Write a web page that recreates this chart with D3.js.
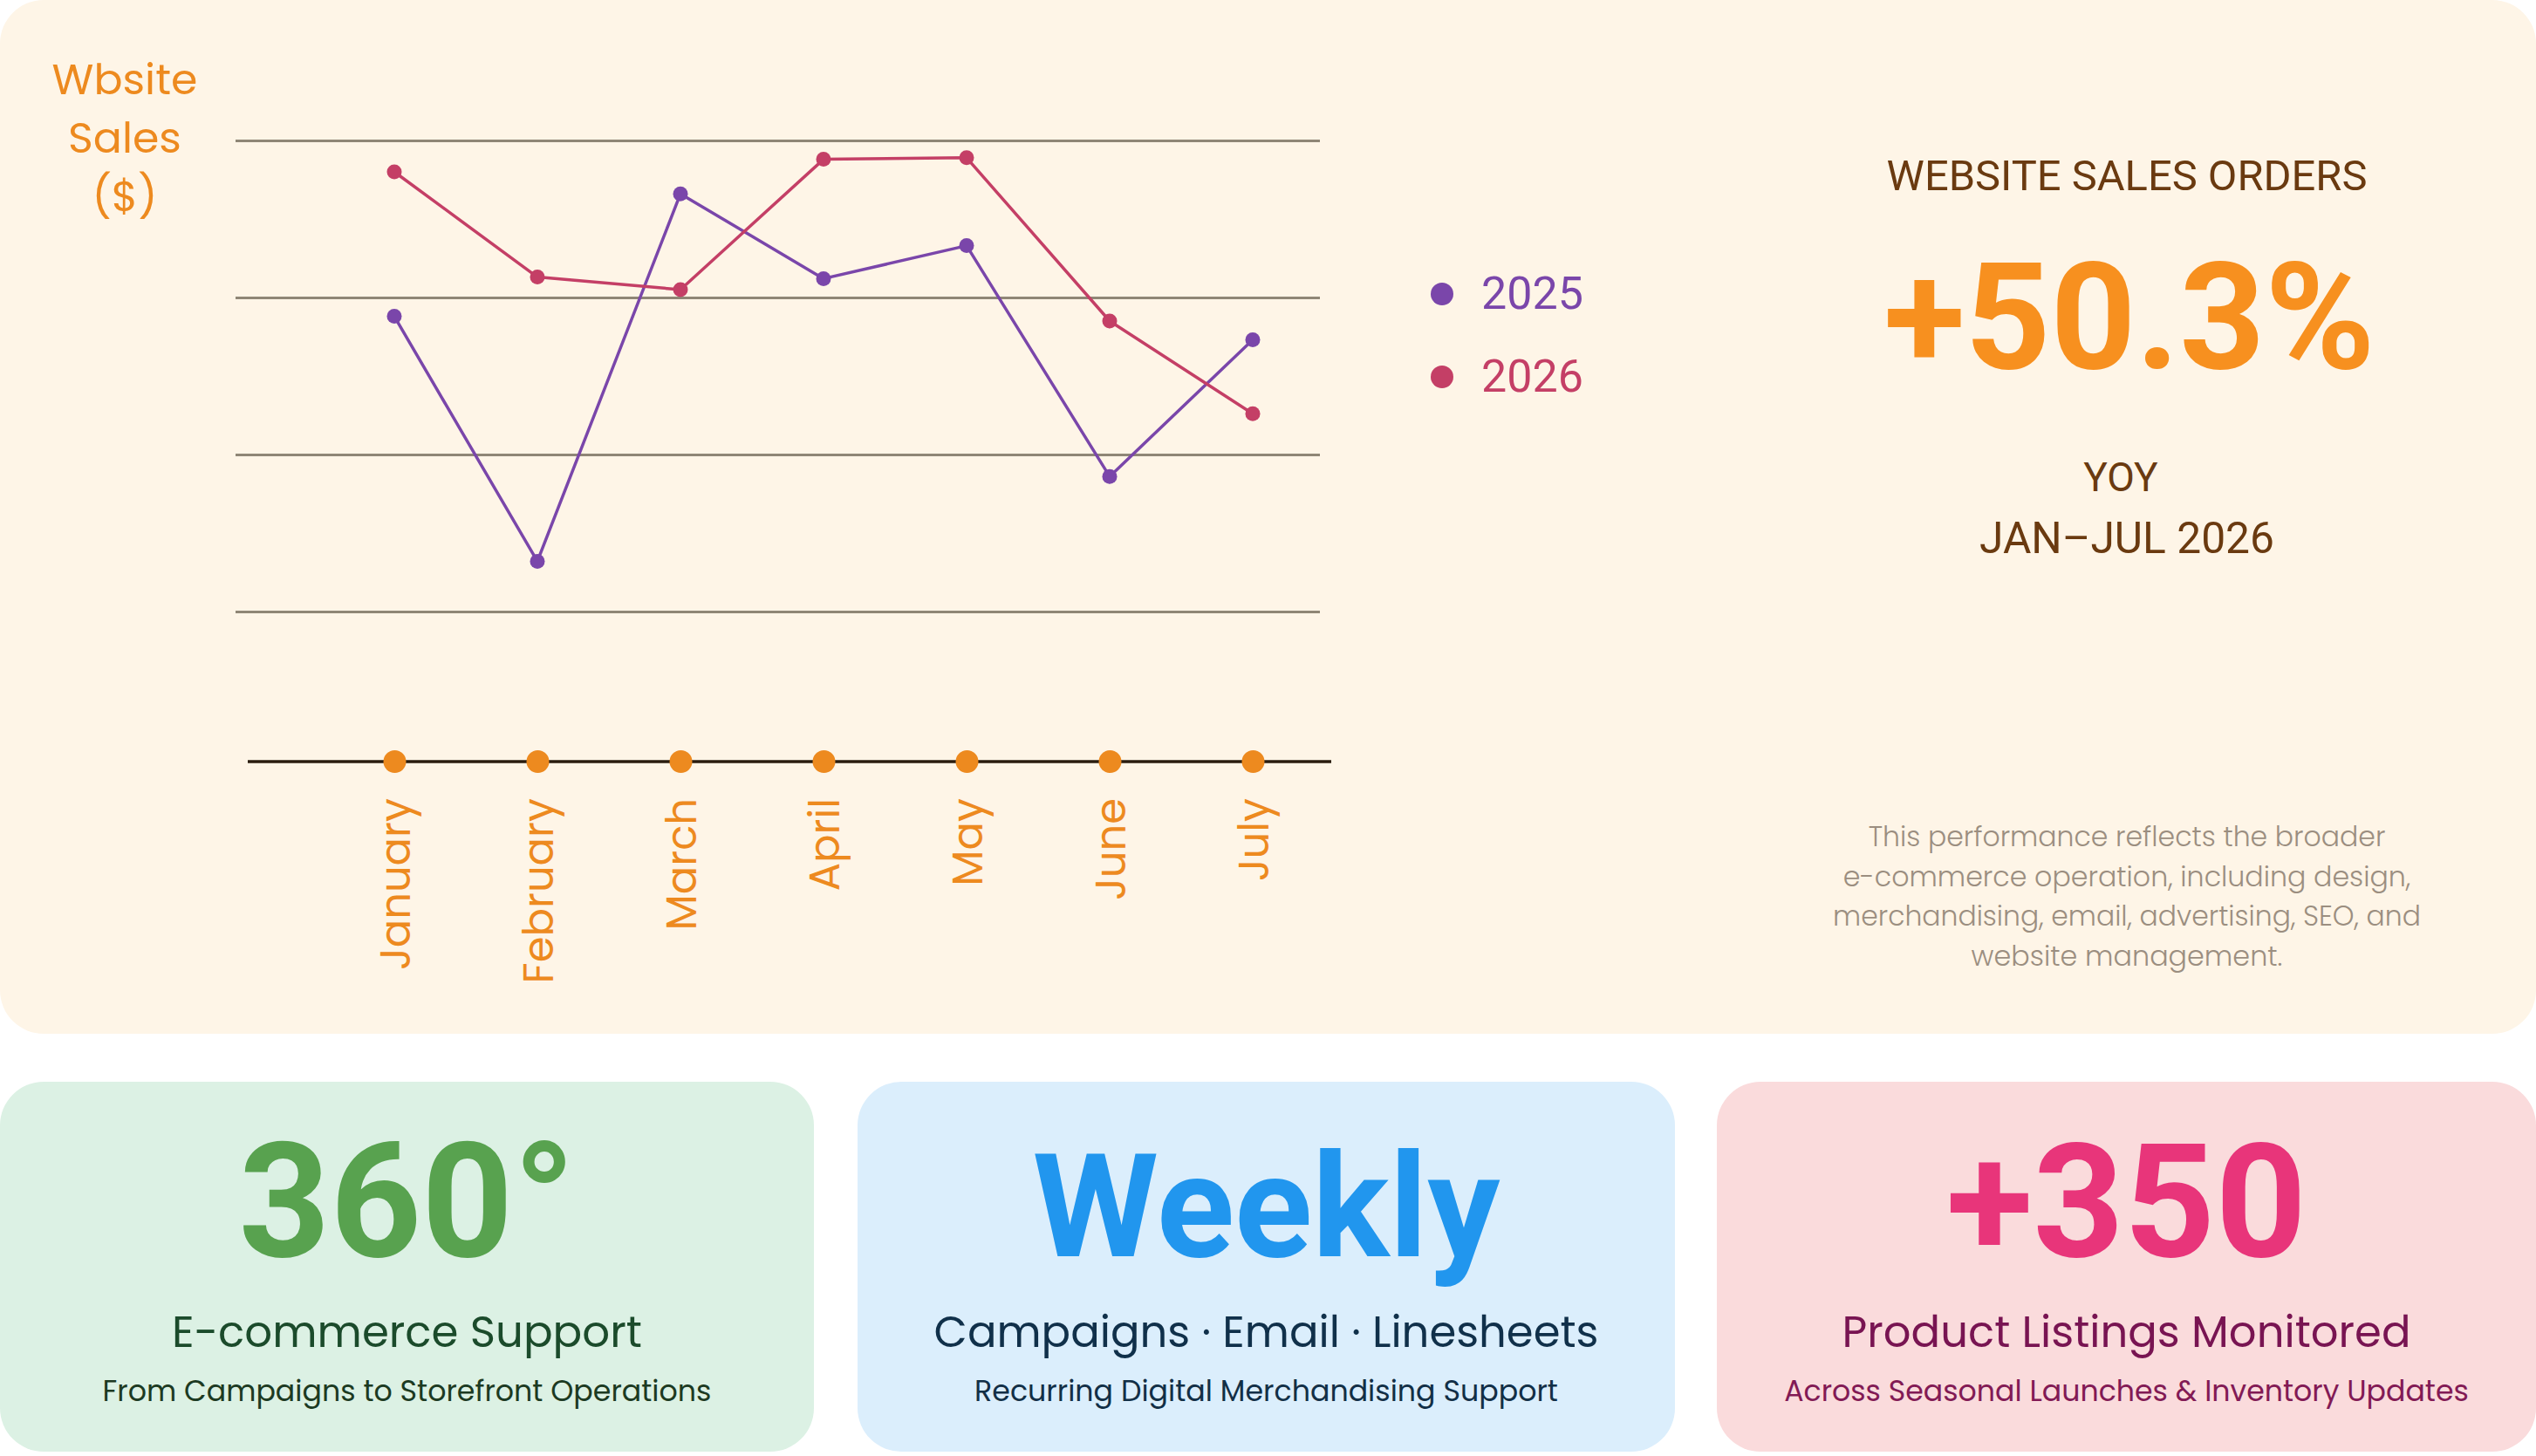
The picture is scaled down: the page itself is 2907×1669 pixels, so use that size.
<!DOCTYPE html>
<html>
<head>
<meta charset="utf-8">
<script src="https://cdn.jsdelivr.net/npm/d3@7"></script>
<style>
  html, body { margin: 0; padding: 0; background: #ffffff; }
  svg { display: block; }
</style>
</head>
<body>
<svg id="chart" width="2907" height="1669"></svg>
<script>
// ---------------- DATA ----------------
const months = ["January", "February", "March", "April", "May", "June", "July"];
const seriesNames = ["2025", "2026"];
const sales2025 = [18.8, 3.2, 26.6, 21.2, 23.3, 8.6, 17.3];
const sales2026 = [28.0, 21.3, 20.5, 28.8, 28.9, 18.5, 12.6];
const gridTicks = [0, 10, 20, 30];
const yLabelLines = ["Wbsite", "Sales", "($)"];

const kpiTitle = "WEBSITE SALES ORDERS";
const kpiValue = "+50.3%";
const kpiLines = ["YOY", "JAN\u2013JUL 2026"];
const noteLines = [
  "This performance reflects the broader",
  "e-commerce operation, including design,",
  "merchandising, email, advertising, SEO, and",
  "website management."
];

const cardValues = ["360\u00b0", "Weekly", "+350"];
const cardTitles = ["E-commerce Support", "Campaigns \u00b7 Email \u00b7 Linesheets", "Product Listings Monitored"];
const cardSubtitles = ["From Campaigns to Storefront Operations", "Recurring Digital Merchandising Support", "Across Seasonal Launches & Inventory Updates"];

// ---------------- STYLE / LAYOUT ----------------
const W = 2907, H = 1669;
const SANS = "Poppins, Lato, 'Open Sans', sans-serif";
const GROT = "Roboto, Inter, 'Liberation Sans', sans-serif";
const colors = {
  panel: "#fef5e7",
  orange: "#ed8a1f",
  grid: "#8f8676",
  axis: "#2a1d0f",
  s2025: "#7a46aa",
  s2026: "#c43f66",
  brown: "#6a3a10",
  kpi: "#f7901f",
  note: "#9b8e80"
};
const cardStyle = [
  { bg: "#dcf1e4", big: "#58a24f", title: "#1b4b2b", sub: "#1c3a22" },
  { bg: "#dbeefc", big: "#2196ee", title: "#10304a", sub: "#122f46" },
  { bg: "#fadbdc", big: "#e8357a", title: "#781452", sub: "#821a55" }
];

const svg = d3.select("#chart");

function fit(sel, width) {
  const n = sel.node();
  const cur = n.getComputedTextLength();
  const fs = parseFloat(sel.attr("font-size"));
  if (cur > 0) sel.attr("font-size", fs * width / cur);
  return sel;
}

// top panel
svg.append("rect").attr("x", 0).attr("y", 0).attr("width", W).attr("height", 1185)
  .attr("rx", 50).attr("fill", colors.panel);

// scales
const x = d3.scalePoint().domain(months).range([452, 1436]);
const y = d3.scaleLinear().domain([0, 30]).range([701, 161]);

// gridlines
const grid = svg.append("g").attr("transform", "translate(270,0)")
  .call(d3.axisLeft(y).tickValues(gridTicks).tickSize(-(1513 - 270)).tickFormat(""));
grid.select(".domain").remove();
grid.selectAll(".tick line").attr("stroke", colors.grid).attr("stroke-width", 3);

// x axis
const xa = svg.append("g").attr("transform", "translate(0,873)");
xa.append("line").attr("x1", 284).attr("x2", 1526).attr("y1", 0).attr("y2", 0)
  .attr("stroke", colors.axis).attr("stroke-width", 3.5);
xa.call(d3.axisBottom(x).tickSize(0).tickSizeOuter(0).tickFormat(""));
xa.select(".domain").remove();
xa.selectAll(".tick").append("circle").attr("r", 13).attr("fill", colors.orange);
xa.selectAll(".tick").append("text")
  .attr("transform", "rotate(-90)")
  .attr("x", -42).attr("y", 0).attr("dy", "0.36em")
  .attr("text-anchor", "end")
  .attr("fill", colors.orange)
  .attr("font-family", SANS)
  .attr("font-size", 48)
  .text(d => d);

// lines
const series = [
  { name: seriesNames[0], values: sales2025, color: colors.s2025 },
  { name: seriesNames[1], values: sales2026, color: colors.s2026 }
];
const line = d3.line().x((d, i) => x(months[i])).y(d => y(d));
series.forEach(s => {
  svg.append("path").datum(s.values).attr("d", line)
    .attr("fill", "none").attr("stroke", s.color).attr("stroke-width", 3.5)
    .attr("stroke-linejoin", "round");
  svg.append("g").selectAll("circle").data(s.values).join("circle")
    .attr("cx", (d, i) => x(months[i])).attr("cy", d => y(d)).attr("r", 8.5)
    .attr("fill", s.color);
});

// y label
yLabelLines.forEach((t, i) => {
  svg.append("text").attr("x", 143).attr("y", 108 + i * 67)
    .attr("text-anchor", "middle").attr("fill", colors.orange)
    .attr("font-family", SANS).attr("font-size", 49).text(t);
});

// legend
const leg = svg.append("g");
series.forEach((s, i) => {
  const yy = 337 + i * 95;
  leg.append("circle").attr("cx", 1653).attr("cy", yy).attr("r", 13).attr("fill", s.color);
  leg.append("text").attr("x", 1698).attr("y", yy + 17)
    .attr("fill", s.color).attr("font-family", GROT).attr("font-size", 52).text(s.name);
});

// KPI block
const kx = 2438;
fit(svg.append("text").attr("x", kx).attr("y", 218).attr("text-anchor", "middle")
  .attr("fill", colors.brown).attr("font-family", GROT).attr("font-size", 46).text(kpiTitle), 551);
fit(svg.append("text").attr("x", 2441).attr("y", 422).attr("text-anchor", "middle")
  .attr("fill", colors.kpi).attr("font-family", GROT).attr("font-weight", 700)
  .attr("font-size", 165).text(kpiValue), 563);
svg.append("text").attr("x", 2431).attr("y", 563).attr("text-anchor", "middle")
  .attr("fill", colors.brown).attr("font-family", GROT).attr("font-size", 46).text(kpiLines[0]);
fit(svg.append("text").attr("x", kx).attr("y", 634).attr("text-anchor", "middle")
  .attr("fill", colors.brown).attr("font-family", GROT).attr("font-size", 46).text(kpiLines[1]), 338);

const noteW = [593, 651, 674, 357];
noteLines.forEach((t, i) => {
  fit(svg.append("text").attr("x", kx).attr("y", 970 + i * 45.7).attr("text-anchor", "middle")
    .attr("fill", colors.note).attr("font-family", SANS).attr("font-weight", 300)
    .attr("font-size", 32).text(t), noteW[i]);
});

// cards
const cardX = [0, 983, 1968];
const cardW = [933, 937, 939];
const bigW = [386, 536, 413];
const titleW = [539, 762, 652];
const subW = [698, 669, 785];
cardValues.forEach((v, i) => {
  const st = cardStyle[i];
  const g = svg.append("g");
  g.append("rect").attr("x", cardX[i]).attr("y", 1240).attr("width", cardW[i]).attr("height", 424)
    .attr("rx", 50).attr("fill", st.bg);
  const cx = cardX[i] + cardW[i] / 2;
  fit(g.append("text").attr("x", cx).attr("y", 1440).attr("text-anchor", "middle")
    .attr("fill", st.big).attr("font-family", GROT).attr("font-weight", 700)
    .attr("font-size", 180).text(v), bigW[i]);
  fit(g.append("text").attr("x", cx).attr("y", 1544).attr("text-anchor", "middle")
    .attr("fill", st.title).attr("font-family", SANS)
    .attr("font-size", 50).text(cardTitles[i]), titleW[i]);
  fit(g.append("text").attr("x", cx).attr("y", 1606).attr("text-anchor", "middle")
    .attr("fill", st.sub).attr("font-family", SANS)
    .attr("font-size", 34).text(cardSubtitles[i]), subW[i]);
});
</script>
</body>
</html>
